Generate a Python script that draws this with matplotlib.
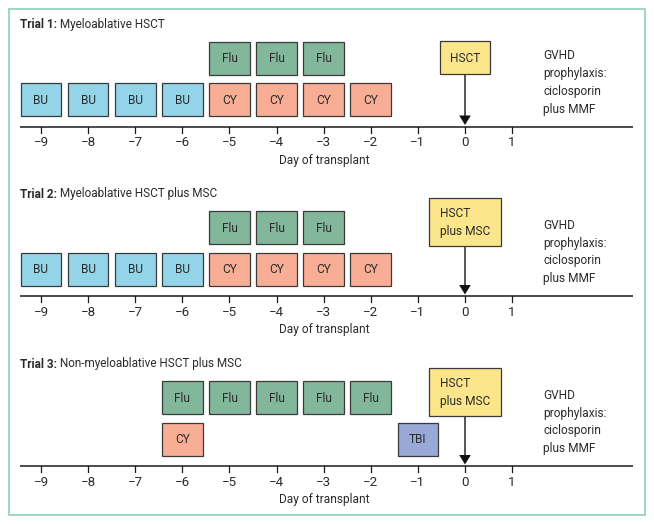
import matplotlib
matplotlib.use("Agg")
import matplotlib.pyplot as plt
from matplotlib.patches import Rectangle, Polygon

plt.rcParams['font.family'] = ['Roboto', 'DejaVu Sans']

# ---------------- data ----------------
tick_days = [-9, -8, -7, -6, -5, -4, -3, -2, -1, 0, 1]
tick_labels = ["\u22129", "\u22128", "\u22127", "\u22126", "\u22125", "\u22124",
               "\u22123", "\u22122", "\u22121", "0", "1"]

trial_titles_bold = ["Trial 1:", "Trial 2:", "Trial 3:"]
trial_titles = ["Myeloablative HSCT", "Myeloablative HSCT plus MSC",
                "Non-myeloablative HSCT plus MSC"]

# upper row / lower row treatments, by day
t1_upper = {"Flu": [-5, -4, -3]}
t1_lower = {"BU": [-9, -8, -7, -6], "CY": [-5, -4, -3, -2]}
t2_upper = {"Flu": [-5, -4, -3]}
t2_lower = {"BU": [-9, -8, -7, -6], "CY": [-5, -4, -3, -2]}
t3_upper = {"Flu": [-6, -5, -4, -3, -2]}
t3_lower = {"CY": [-6], "TBI": [-1]}

transplant_day = 0
transplant_labels = ["HSCT", "HSCT\nplus MSC", "HSCT\nplus MSC"]
gvhd_text = "GVHD\nprophylaxis:\nciclosporin\nplus MMF"
xlabel = "Day of transplant"

colors = {"BU": "#93d4e8", "CY": "#f8ae94", "Flu": "#82b79b",
          "TBI": "#98a9d8", "HSCT": "#fbe68b"}

# ---------------- layout ----------------
W, H = 654, 524
px_per_day = 47.11
x0_px = 41.0  # pixel of day -9
fig = plt.figure(figsize=(W / 100, H / 100), dpi=100)
ax = fig.add_axes([0, 0, 1, 1])
ax.set_xlim(-9 - x0_px / px_per_day, -9 + (W - x0_px) / px_per_day)
ax.set_ylim(H, 0)
ax.axis('off')

def dx(px):
    return px / px_per_day

TXT = "#2b2b2b"
EDGE = "#3a3a3a"
FS_TITLE = 8.5
FS = 8.6
FS_TICK = 9.6

# border
ax.add_patch(Rectangle((-9 - dx(x0_px - 8.5), 8.5), dx(636), 506,
                       facecolor='none', edgecolor='#94d3bf', lw=1.3,
                       zorder=0))

axis_y = [126.5, 296, 466]
uppers = [t1_upper, t2_upper, t3_upper]
lowers = [t1_lower, t2_lower, t3_lower]
box_w = dx(40.7)
box_h = 33

for i in range(3):
    ay = axis_y[i]
    # title
    t = ax.text(-9 - dx(x0_px - 20), ay - 102, trial_titles_bold[i],
                fontsize=FS_TITLE, fontweight='bold', color=TXT,
                ha='left', va='center')
    ax.annotate(" " + trial_titles[i], xy=(1, 0.5), xycoords=t,
                fontsize=FS_TITLE, color=TXT, ha='left', va='center')

    # boxes
    for row, (rows, top) in enumerate([(uppers[i], ay - 85), (lowers[i], ay - 43.5)]):
        for name, days in rows.items():
            for d in days:
                ax.add_patch(Rectangle((d - box_w / 2, top), box_w, box_h,
                                       facecolor=colors[name], edgecolor=EDGE,
                                       lw=0.9, zorder=2))
                ax.text(d, top + box_h / 2 + 0.5, name, fontsize=FS,
                        color=TXT, ha='center', va='center', zorder=3)

    # transplant box
    if i == 0:
        hw, top, bot = dx(50.5), ay - 85.5, ay - 52.5
    else:
        hw, top, bot = dx(72.5), ay - 98, ay - 50.5
    ax.add_patch(Rectangle((transplant_day - hw / 2, top), hw, bot - top,
                           facecolor=colors["HSCT"], edgecolor=EDGE, lw=0.9,
                           zorder=2))
    ax.text(transplant_day, (top + bot) / 2 + 0.5, transplant_labels[i],
            fontsize=FS, color=TXT, ha='center', va='center',
            multialignment='left', linespacing=1.5, zorder=3)

    # arrow
    ax.plot([transplant_day, transplant_day], [bot, ay - 8], color='#555555',
            lw=1.4, zorder=1)
    ax.add_patch(Polygon([(transplant_day - dx(5.8), ay - 11),
                          (transplant_day + dx(5.8), ay - 11),
                          (transplant_day, ay - 1.5)],
                         closed=True, facecolor='#111111', edgecolor='none',
                         zorder=3))

    # axis line
    ax.plot([-9 - dx(21), -9 + dx(633 - x0_px)], [ay, ay], color='#1a1a1a',
            lw=1.1, zorder=1, solid_capstyle='butt')
    for d, lab in zip(tick_days, tick_labels):
        ax.plot([d, d], [ay, ay + 6], color='#1a1a1a', lw=0.9, zorder=1)
        ax.text(d, ay + 16, lab, fontsize=FS_TICK, color=TXT,
                ha='center', va='center')
    ax.text(-9 + dx(324 - x0_px), ay + 34, xlabel, fontsize=FS,
            color=TXT, ha='center', va='center')

    # GVHD text
    ax.text(-9 + dx(543 - x0_px), ay - 44, gvhd_text, fontsize=FS,
            color=TXT, ha='left', va='center', linespacing=1.48)

fig.savefig("out.png", dpi=100)
